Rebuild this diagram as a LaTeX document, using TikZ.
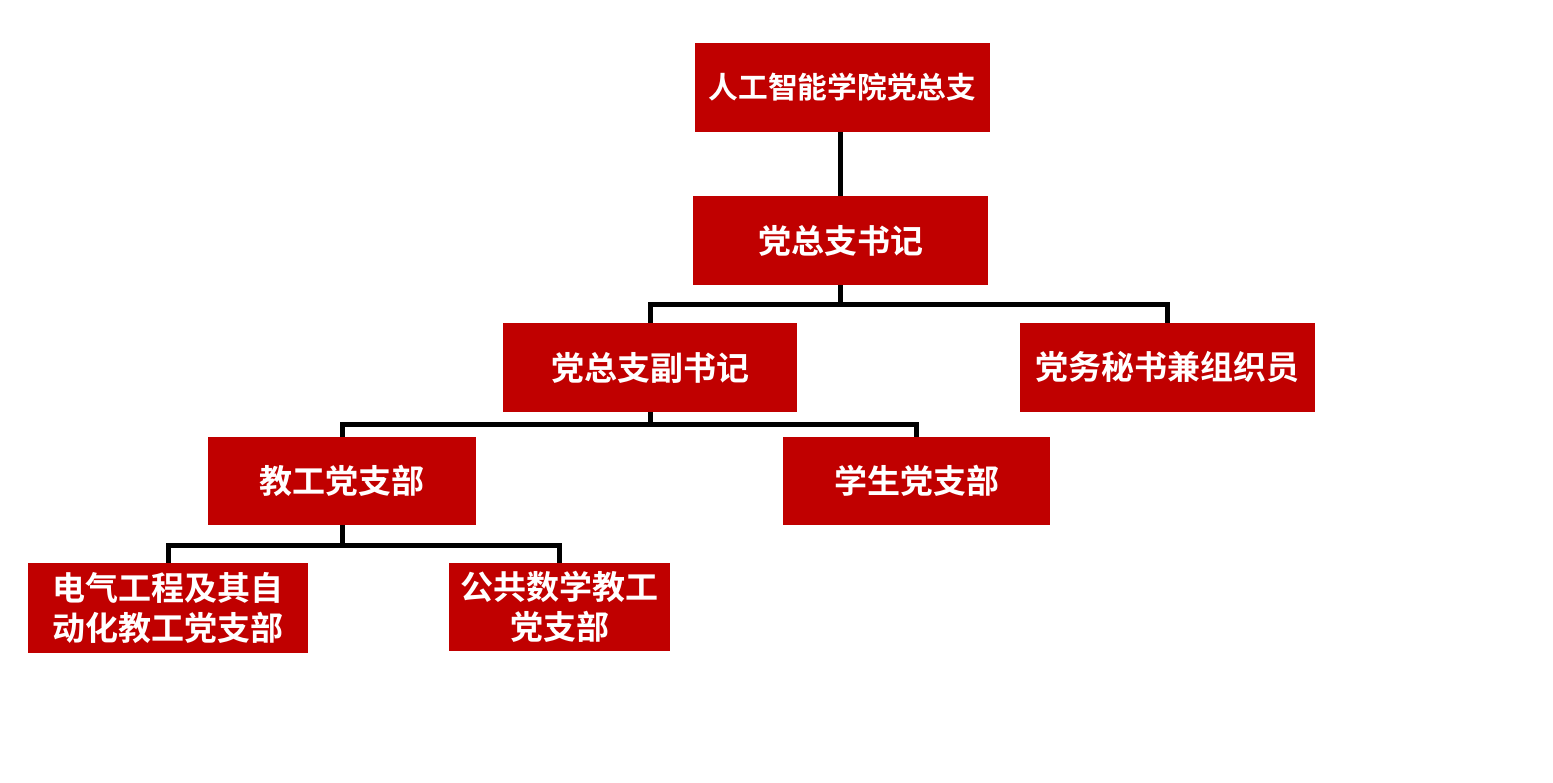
\documentclass[tikz,border=0pt]{standalone}
\usepackage{fontspec}
\newfontfamily\cjk{Noto Sans CJK SC}[BoldFont={Noto Sans CJK SC Bold}]
\definecolor{boxred}{HTML}{C00000}
\begin{document}
\begin{tikzpicture}[x=1pt,y=-1pt,
  orgbox/.style={draw=none,fill=boxred,text=white,inner sep=0pt,align=center,
    font=\cjk\bfseries\fontsize{33}{40}\selectfont},
  conn/.style={draw=black,line width=5pt,line join=miter}]
\useasboundingbox (0,0) rectangle (1553,782);
\node[orgbox,minimum width=295pt,minimum height=89pt,font=\cjk\bfseries\fontsize{29.7}{36}\selectfont] (a) at (842.5,87.5) {人工智能学院党总支};
\node[orgbox,minimum width=295pt,minimum height=89pt] (b) at (840.5,240.5) {党总支书记};
\node[orgbox,minimum width=294pt,minimum height=89pt] (c) at (650,367.5) {党总支副书记};
\node[orgbox,minimum width=295pt,minimum height=89pt] (d) at (1167.5,367.5) {党务秘书兼组织员};
\node[orgbox,minimum width=268pt,minimum height=88pt] (e) at (342,481) {教工党支部};
\node[orgbox,minimum width=267pt,minimum height=88pt] (f) at (916.5,481) {学生党支部};
\node[orgbox,minimum width=280pt,minimum height=90pt] (g) at (168,608) {电气工程及其自\\动化教工党支部};
\node[orgbox,minimum width=221pt,minimum height=88pt] (h) at (559.5,607) {公共数学教工\\党支部};
\draw[conn] (b.north |- a.south) -- (b.north);
\draw[conn] (b.south) -- ++(0,19.5) coordinate (j1);
\draw[conn] (j1) -| (c.north);
\draw[conn] (j1) -| (d.north);
\draw[conn] (c.south) -- ++(0,12) coordinate (j2);
\draw[conn] (j2) -| (e.north);
\draw[conn] (j2) -| (f.north);
\draw[conn] (e.south) -- ++(0,20) coordinate (j3);
\draw[conn] (j3) -| (g.north);
\draw[conn] (j3) -| (h.north);
\end{tikzpicture}
\end{document}
